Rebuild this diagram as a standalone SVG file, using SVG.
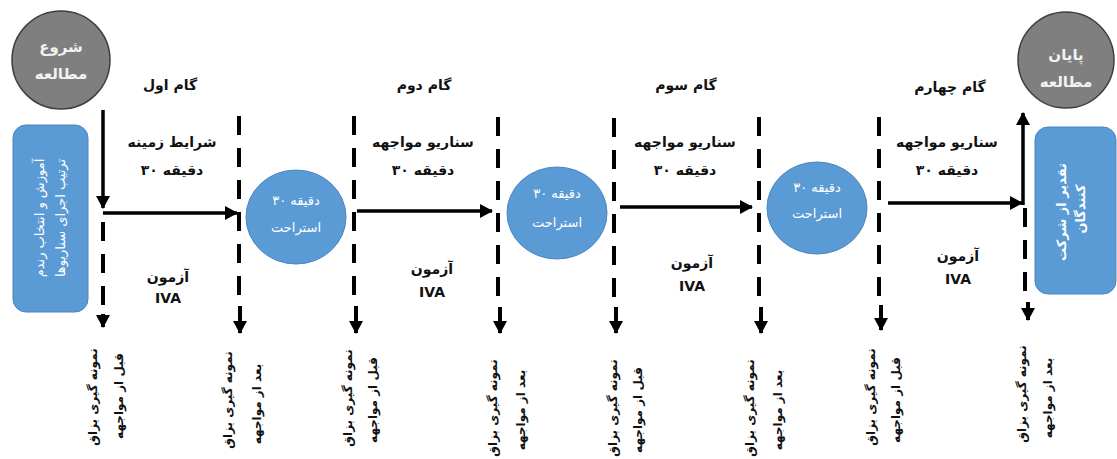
<svg xmlns="http://www.w3.org/2000/svg" width="1117" height="459" viewBox="0 0 1117 459">
<style>
.lbl{font-family:"DejaVu Sans",sans-serif;font-weight:bold;font-size:14px;fill:#111;text-anchor:middle}
.sm{font-family:"DejaVu Sans",sans-serif;font-weight:bold;font-size:12px;fill:#111;text-anchor:middle}
.wt{font-family:"DejaVu Sans",sans-serif;font-size:13px;fill:#fff;text-anchor:middle}
.wb{font-family:"DejaVu Sans",sans-serif;font-weight:bold;font-size:15px;fill:#f2f2f2;text-anchor:middle}
.gray{fill:#7f7f7f;stroke:#3f3f3f;stroke-width:1.5}
.blue{fill:#5b9bd5;stroke:#4a86bf;stroke-width:1}
.solid{fill:none;stroke:#000;stroke-width:3.5}
.dash{fill:none;stroke:#000;stroke-width:4;stroke-dasharray:19 13}
.tip{fill:none;stroke:#000;stroke-width:4}
</style>
<defs>
<marker id="ah" markerUnits="userSpaceOnUse" markerWidth="14" markerHeight="14" refX="12" refY="7" orient="auto">
<path d="M0,0 L13,7 L0,14 Z" fill="#000"/>
</marker>
</defs>
<g id="start"><circle class="gray" cx="61" cy="60" r="49"/><text class="wb" x="61" y="52">شروع</text><text class="wb" x="61" y="79">مطالعه</text></g>
<g id="end"><circle class="gray" cx="1066" cy="60" r="48"/><text class="wb" x="1066" y="60">پایان</text><text class="wb" x="1066" y="87">مطالعه</text></g>
<g id="training"><rect class="blue" x="13" y="125" width="75" height="187" rx="13"/>
<text class="wt" font-size="14" transform="translate(44,218) rotate(-90)">آموزش و انتخاب رندم</text>
<text class="wt" font-size="14" transform="translate(65,218) rotate(-90)">ترتیب اجرای سناریوها</text></g>
<g id="thanks"><rect class="blue" x="1035" y="127" width="81" height="167" rx="13"/>
<text class="wt" font-size="14" font-weight="bold" transform="translate(1066,212) rotate(-90)">تقدیر از شرکت</text>
<text class="wt" font-size="14" font-weight="bold" transform="translate(1085,209) rotate(-90)">کنندگان</text></g>
<g id="rest1"><ellipse class="blue" cx="296" cy="217" rx="50" ry="47"/><text class="wt" x="296" y="205">دقیقه ۳۰</text><text class="wt" x="296" y="232">استراحت</text></g>
<g id="rest2"><ellipse class="blue" cx="557" cy="213" rx="50" ry="46"/><text class="wt" x="557" y="198">دقیقه ۳۰</text><text class="wt" x="557" y="227">استراحت</text></g>
<g id="rest3"><ellipse class="blue" cx="817" cy="208" rx="50" ry="46"/><text class="wt" x="817" y="192">دقیقه ۳۰</text><text class="wt" x="817" y="218">استراحت</text></g>
<g id="step1"><text class="lbl" x="170" y="90">گام اول</text><text class="lbl" x="172" y="147">شرایط زمینه</text><text class="lbl" x="172" y="175">دقیقه ۳۰</text><text class="lbl" x="168" y="282">آزمون</text><text class="lbl" x="168" y="303">IVA</text></g>
<g id="step2"><text class="lbl" x="424" y="90">گام دوم</text><text class="lbl" x="423" y="147">سناریو مواجهه</text><text class="lbl" x="423" y="175">دقیقه ۳۰</text><text class="lbl" x="432" y="274">آزمون</text><text class="lbl" x="432" y="297">IVA</text></g>
<g id="step3"><text class="lbl" x="686" y="90">گام سوم</text><text class="lbl" x="685" y="147">سناریو مواجهه</text><text class="lbl" x="685" y="175">دقیقه ۳۰</text><text class="lbl" x="692" y="268">آزمون</text><text class="lbl" x="692" y="291">IVA</text></g>
<g id="step4"><text class="lbl" x="950" y="92">گام چهارم</text><text class="lbl" x="947" y="147">سناریو مواجهه</text><text class="lbl" x="947" y="175">دقیقه ۳۰</text><text class="lbl" x="958" y="261">آزمون</text><text class="lbl" x="958" y="284">IVA</text></g>
<g id="samples">
<text class="sm" transform="translate(97,397) rotate(-90)">نمونه گیری بزاق</text><text class="sm" transform="translate(123,396) rotate(-90)">قبل از مواجهه</text>
<text class="sm" transform="translate(232,400) rotate(-90)">نمونه گیری بزاق</text><text class="sm" transform="translate(261,404) rotate(-90)">بعد از مواجهه</text>
<text class="sm" transform="translate(352,398) rotate(-90)">نمونه گیری بزاق</text><text class="sm" transform="translate(377,400) rotate(-90)">قبل از مواجهه</text>
<text class="sm" transform="translate(497,408) rotate(-90)">نمونه گیری بزاق</text><text class="sm" transform="translate(525,410) rotate(-90)">بعد از مواجهه</text>
<text class="sm" transform="translate(617,408) rotate(-90)">نمونه گیری بزاق</text><text class="sm" transform="translate(642,410) rotate(-90)">قبل از مواجهه</text>
<text class="sm" transform="translate(754,408) rotate(-90)">نمونه گیری بزاق</text><text class="sm" transform="translate(782,410) rotate(-90)">بعد از مواجهه</text>
<text class="sm" transform="translate(875,397) rotate(-90)">نمونه گیری بزاق</text><text class="sm" transform="translate(900,400) rotate(-90)">قبل از مواجهه</text>
<text class="sm" transform="translate(1026,394) rotate(-90)">نمونه گیری بزاق</text><text class="sm" transform="translate(1052,398) rotate(-90)">بعد از مواجهه</text>
</g>
<g id="connectors">
<path class="solid" d="M103,110 V208" marker-end="url(#ah)"/>
<path class="solid" d="M103,213 H237" marker-end="url(#ah)"/>
<path class="solid" d="M357,211 H492" marker-end="url(#ah)"/>
<path class="solid" d="M620,207 H752" marker-end="url(#ah)"/>
<path class="solid" d="M888,203 H1022" marker-end="url(#ah)"/>
<path class="solid" d="M1023,205 V113" marker-end="url(#ah)"/>
<path class="dash" d="M103,222 V305"/><path class="tip" d="M103,314 V327" marker-end="url(#ah)"/>
<path class="dash" d="M239,116 V295"/><path class="tip" d="M240,306 V333" marker-end="url(#ah)"/>
<path class="dash" d="M354,116 V295"/><path class="tip" d="M356,306 V333" marker-end="url(#ah)"/>
<path class="dash" d="M498,117 V296"/><path class="tip" d="M500,307 V333" marker-end="url(#ah)"/>
<path class="dash" d="M614,118 V297"/><path class="tip" d="M616,307 V333" marker-end="url(#ah)"/>
<path class="dash" d="M759,117 V296"/><path class="tip" d="M761,307 V333" marker-end="url(#ah)"/>
<path class="dash" d="M879,117 V296"/><path class="tip" d="M881,305 V330" marker-end="url(#ah)"/>
<path class="dash" d="M1025,208 V292"/><path class="tip" d="M1028,302 V320" marker-end="url(#ah)"/>
</g>
</svg>
